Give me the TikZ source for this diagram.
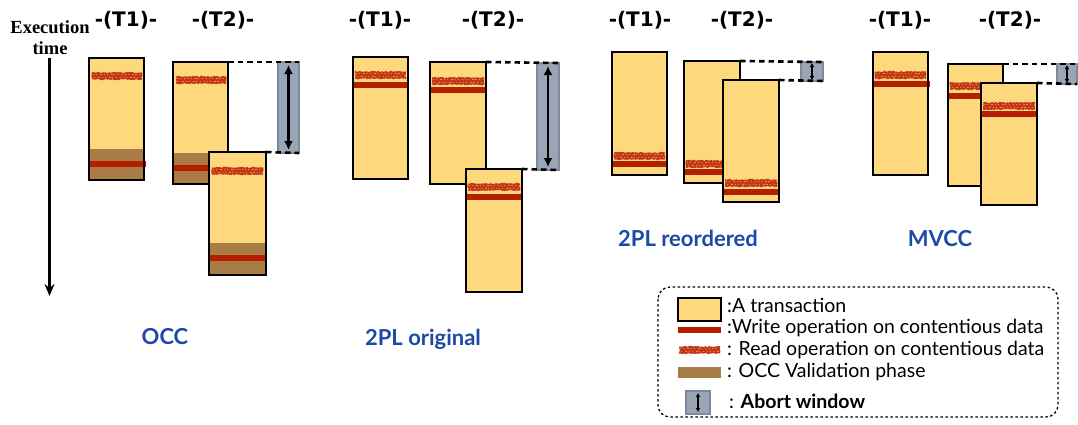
\documentclass[tikz,border=0pt]{standalone}
\usepackage{fontspec}
\newfontfamily\legfont{Lato}
\newfontfamily\hdrfont{DejaVu Sans}
\newfontfamily\serfont{Liberation Serif}
\usetikzlibrary{decorations.pathmorphing,arrows.meta}
\definecolor{txfill}{HTML}{FDD87C}
\definecolor{wcol}{HTML}{B51E00}
\definecolor{rcol}{HTML}{C23818}
\definecolor{rspeck}{HTML}{E8874E}
\definecolor{valcol}{HTML}{A97B45}
\definecolor{abfill}{HTML}{9AA6B8}
\definecolor{abdraw}{HTML}{7D8898}
\definecolor{lblue}{HTML}{1B49A6}
\tikzset{
  txnode/.style={fill=txfill, draw=none, inner sep=0pt, outer sep=0pt, rectangle},
  txborder/.style={draw=black, line width=1.8pt},
  wop/.style={fill=wcol},
  rop/.style={fill=rcol, decorate, decoration={random steps, segment length=1.2pt, amplitude=0.7pt}},
  speck/.style={draw=rspeck, line width=0.9pt, dash pattern=on 1.2pt off 2.1pt on 0.8pt off 3.3pt on 1.5pt off 1.7pt},
  valst/.style={fill=valcol},
  abortbox/.style={fill=abfill, draw=abdraw, line width=1.3pt, inner sep=0pt, outer sep=0pt, rectangle},
  aarrow/.style={{Latex[length=9pt,width=9pt]}-{Latex[length=9pt,width=9pt]}, line width=2.4pt},
  sarrow/.style={{Latex[length=4pt,width=5pt]}-{Latex[length=4pt,width=5pt]}, line width=1.3pt},
  dline/.style={draw=black, dash pattern=on 5.5pt off 4pt, line width=2.6pt},
  hdr/.style={font=\hdrfont\bfseries\fontsize{20}{22}\selectfont, inner sep=0pt},
  blab/.style={font=\legfont\bfseries\fontsize{22}{24}\selectfont, text=lblue, inner sep=0pt, anchor=base},
  legtext/.style={font=\legfont\fontsize{19.5}{22}\selectfont, inner sep=0pt, anchor=base west},
  exet/.style={font=\serfont\bfseries\fontsize{18.5}{20}\selectfont, inner sep=0pt, anchor=base},
}
\newcommand\txn[5]{\node[txnode, minimum width={(#4-#2)*1pt}, minimum height={(#5-#3)*1pt}, anchor=north west] (#1) at (#2,#3) {};}
\newcommand\wband[3]{\fill[wop] (#1,#3-3) rectangle (#2,#3+3);}
\newcommand\rband[3]{\fill[rop] (#1,#3-3.6) rectangle (#2,#3+3.6);
  \draw[speck] (#1+1,#3-1.2) -- (#2-1,#3-1.2);
  \draw[speck, dash phase=2pt] (#1+1,#3+1.4) -- (#2-1,#3+1.4);}
\newcommand\vphase[4]{\fill[valst] (#1,#3) rectangle (#2,#4);}
\newcommand\txframe[1]{\draw[txborder] (#1.north west) rectangle (#1.south east);}
\newcommand\abortwin[5]{\node[abortbox, minimum width={(#4-#2)*1pt}, minimum height={(#5-#3)*1pt}, anchor=north west] (#1) at (#2,#3) {};}
\begin{document}
\begin{tikzpicture}[x=1pt,y=-1pt]
\useasboundingbox (0,0) rectangle (1078,424);
% axis
\node[exet] (exe) at (50,33) {Execution};
\node[exet] (tim) at (50,54) {time};
\coordinate (axtop) at (49.5,58);
\coordinate (axbot) at (49.5,296);
\draw[line width=2.4pt, -{Stealth[length=12pt,width=10pt]}] (axtop) -- (axbot);
% headers
\node[hdr] (h1) at (126,20) {-(T1)-};
\node[hdr] (h2) at (223,20) {-(T2)-};
\node[hdr] (h3) at (380,20) {-(T1)-};
\node[hdr] (h4) at (493,20) {-(T2)-};
\node[hdr] (h5) at (640,20) {-(T1)-};
\node[hdr] (h6) at (742,20) {-(T2)-};
\node[hdr] (h7) at (900,20) {-(T1)-};
\node[hdr] (h8) at (1010,20) {-(T2)-};
% ---------- OCC
\txn{occA}{89}{58}{144}{180}
\vphase{89}{144}{149}{180}
\rband{92}{142}{76}
\wband{89}{146}{164}
\txframe{occA}
\txn{occB}{173}{62}{228}{184}
\vphase{173}{228}{153}{184}
\rband{176}{226}{80}
\wband{173}{228}{168}
\txframe{occB}
\txn{occC}{209}{152}{266}{275}
\vphase{209}{266}{243}{275}
\rband{212}{263}{171}
\wband{209}{267}{258}
\txframe{occC}
\abortwin{occW}{278}{62}{299}{153}
\draw[dline] (occB.north east) -- (occW.north east);
\draw[dline] (occC.north east) -- (occW.south east);
\draw[aarrow] ([yshift=-3pt]occW.north) -- ([yshift=3pt]occW.south);
\node[blab] (lOCC) at (165,344) {OCC};
% ---------- 2PL original
\txn{poA}{353}{57}{408}{179}
\rband{355}{406}{75}
\wband{353}{408}{85}
\txframe{poA}
\txn{poB}{430}{62}{486}{184}
\rband{432}{484}{81}
\wband{430}{486}{90}
\txframe{poB}
\txn{poC}{466}{169}{522}{292}
\rband{468}{520}{187}
\wband{466}{522}{197}
\txframe{poC}
\abortwin{poW}{537}{63}{559}{170}
\draw[dline] (poB.north east) -- (poW.north east);
\draw[dline] (poC.north east) -- (poW.south east);
\draw[aarrow] ([yshift=-3pt]poW.north) -- ([yshift=3pt]poW.south);
\node[blab] (lPO) at (423,345) {2PL original};
% ---------- 2PL reordered
\txn{prA}{612}{52}{667}{175}
\rband{614}{665}{156}
\wband{612}{667}{164}
\txframe{prA}
\txn{prB}{684}{61}{740}{183}
\rband{686}{738}{164}
\wband{684}{740}{172}
\txframe{prB}
\txn{prC}{723}{80}{779}{202}
\rband{725}{777}{183}
\wband{723}{779}{192}
\txframe{prC}
\abortwin{prW}{801}{62}{823}{81}
\draw[dline] (prB.north east) -- (prW.north east);
\draw[dline] (prC.north east) -- (prW.south east);
\draw[sarrow] ([yshift=-1pt]prW.north) -- ([yshift=1pt]prW.south);
\node[blab] (lPR) at (688,246) {2PL reordered};
% ---------- MVCC
\txn{mvA}{873}{52}{928}{175}
\rband{875}{926}{75}
\wband{872}{930}{84}
\txframe{mvA}
\txn{mvB}{948}{64}{1003}{186}
\rband{950}{1001}{86}
\wband{947}{1003}{96}
\txframe{mvB}
\txn{mvC}{981}{83}{1037}{205}
\rband{983}{1035}{106}
\wband{980}{1038}{114}
\txframe{mvC}
\abortwin{mvW}{1057}{64}{1077}{84}
\draw[dline] (mvB.north east) -- (mvW.north east);
\draw[dline] (mvC.north east) -- (mvW.south east);
\draw[sarrow] ([yshift=-1pt]mvW.north) -- ([yshift=1pt]mvW.south);
\node[blab] (lMV) at (940,246) {MVCC};
% ---------- legend
\draw[line width=1.3pt, dash pattern=on 2.5pt off 2.5pt, rounded corners=12pt] (658,287) rectangle (1058,417);
\txn{lgA}{678}{298}{721}{321}
\txframe{lgA}
\wband{678}{721}{330}
\rband{679}{720}{350}
\vphase{678}{721}{367}{378}
\abortwin{lgW}{686}{391}{710}{414}
\draw[sarrow] ([yshift=-2pt]lgW.north) -- ([yshift=2pt]lgW.south);
\node[legtext] (t1) at (727,312) {:A transaction};
\node[legtext] (t2) at (727,333) {:Write operation on contentious data};
\node[legtext] (t3) at (727,355) {: Read operation on contentious data};
\node[legtext] (t4) at (727,377) {: OCC Validation phase};
\node[legtext] (t5) at (729,408) {: \textbf{Abort window}};
\end{tikzpicture}
\end{document}
